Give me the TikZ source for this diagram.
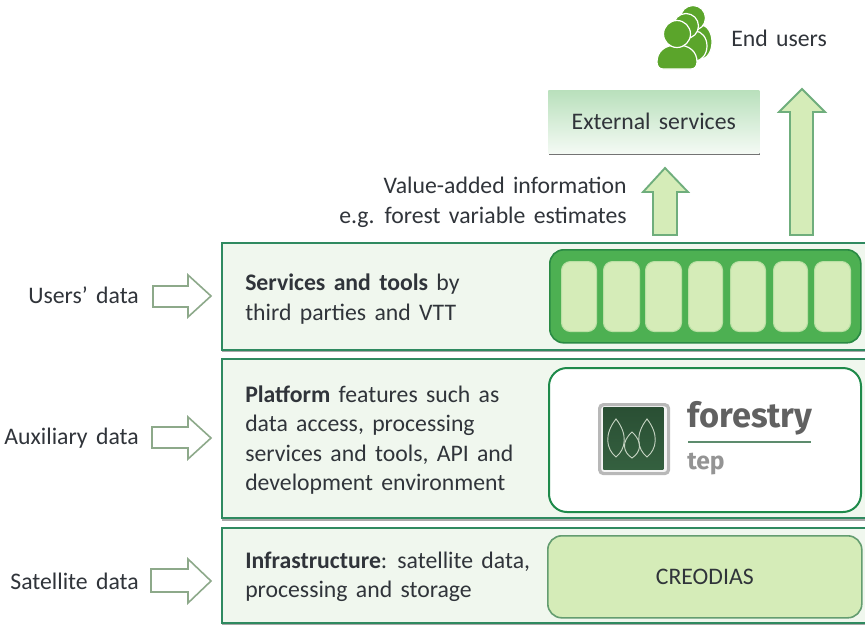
\documentclass[tikz,border=0pt]{standalone}
\usepackage{fontspec}
\setmainfont[WordSpace=1.55]{Carlito}
\newfontfamily\logofont{Fira Sans}
\usetikzlibrary{positioning}
\definecolor{txt}{HTML}{30343A}
\definecolor{layerfill}{HTML}{F0F7EE}
\definecolor{layerline}{HTML}{2F8A60}
\definecolor{lightg}{HTML}{D5ECB8}
\definecolor{midg}{HTML}{4DB052}
\definecolor{darkg}{HTML}{2A8A44}
\definecolor{iconG}{HTML}{5BA52B}
\definecolor{blockline}{HTML}{6FAE7C}
\definecolor{hollowline}{HTML}{8DA98A}
\definecolor{gradtop}{HTML}{B9E0BC}
\definecolor{gradbot}{HTML}{F4FAF4}
\definecolor{platline}{HTML}{1E8A4A}
\definecolor{logotop}{HTML}{2A4F34}
\definecolor{logobot}{HTML}{34603F}
\definecolor{leafline}{HTML}{C5D3C2}
\definecolor{ruleline}{HTML}{5D8C6D}
\newdimen\px \px=0.75pt
\tikzset{
  x=0.75pt,y=-0.75pt,
  lbl/.style={text=txt,font=\fontsize{17.8pt}{22.3pt}\selectfont,inner sep=0pt},
  para/.style={lbl,align=left,anchor=north west,font=\fontsize{17.8pt}{22.1pt}\selectfont},
  layer/.style={draw=layerline,line width=1.5pt,fill=layerfill},
  shadowrect/.style={fill=black!45,draw=none,opacity=.75},
  slot/.style={draw=lightg!80!midg,line width=.8pt,fill=lightg,rounded corners=9\px,inner sep=0pt,anchor=north west,minimum height=70\px},
  blockup/.style={draw=blockline,line width=1.4pt,fill=lightg,line join=miter},
  hollow/.style={draw=hollowline,line width=1.2pt,fill=white,line join=miter},
  iconpart/.style={fill=iconG,draw=white,line width=.9pt},
  leaf/.style={draw=leafline,line width=.7pt},
}
\begin{document}
\begin{tikzpicture}
\useasboundingbox (0,0) rectangle (865,626);
\clip (0,0) rectangle (865,626);
\fill[white] (0,0) rectangle (865,626);

% end users icon
\filldraw[iconpart] (701,42) ellipse (11 and 17);
\filldraw[iconpart] (695,46) ellipse (12 and 15);
\filldraw[iconpart] (693,18) circle (12.5);
\filldraw[iconpart] (686,26) circle (12.5);
\filldraw[iconpart] (663,69) .. controls (659,69) and (657,66) .. (657,62) .. controls (657,52) and (664,45) .. (677,45) .. controls (690,45) and (697,52) .. (697,62) .. controls (697,66) and (695,69) .. (691,69) -- cycle;
\filldraw[iconpart] (677,34) circle (13.5);
\node[lbl,anchor=west] (endusers) at (731,38.5) {End users};

% external services
\fill[black!55] (549,91) rectangle (760,155);
\node[inner sep=0pt,anchor=north west,minimum width=211\px,minimum height=63\px,top color=gradtop,bottom color=gradbot,text=txt,font=\fontsize{17.8pt}{22pt}\selectfont] (external) at (548,90) {External services};

% value added
\node[lbl,anchor=north east,align=right] (value) at (627,177) {Value-added information\\e.g. forest variable estimates};

% block arrows
\draw[blockup] (665,168) -- (688,192) -- (677,192) -- (677,235) -- (653,235) -- (653,192) -- (643,192) -- cycle;
\draw[blockup] (802,89) -- (825,112) -- (813,112) -- (813,235) -- (790,235) -- (790,112) -- (779,112) -- cycle;

% layers
\fill[shadowrect] (222,244) rectangle (870,352);
\node[layer,inner sep=0pt,anchor=north west,minimum width=660\px,minimum height=107\px] (layerA) at (221,242) {};
\fill[shadowrect] (222,361) rectangle (870,521);
\node[layer,inner sep=0pt,anchor=north west,minimum width=660\px,minimum height=159\px] (layerB) at (221,358) {};
\fill[shadowrect] (222,530) rectangle (870,625);
\node[layer,inner sep=0pt,anchor=north west,minimum width=660\px,minimum height=95\px] (layerC) at (221,527) {};

% layer text
\node[para] (textA) at (245,274) {\textbf{Services and tools} by\\third parties and VTT};
\node[para] (textB) at (245,385.5) {\textbf{Platform} features such as\\data access, processing\\services and tools, API and\\development environment};
\node[para] (textC) at (245,551.5) {\textbf{Infrastructure}: satellite data,\\processing and storage};

% services tray
\node[draw=darkg,line width=1.2pt,fill=midg,rounded corners=14\px,inner sep=0pt,anchor=north west,minimum width=311\px,minimum height=93\px] (tray) at (549,249) {};
\node[slot,minimum width=35\px] (s1) at (561,261) {};
\node[slot,minimum width=36\px] (s2) at (603,261) {};
\node[slot,minimum width=36\px] (s3) at (645,261) {};
\node[slot,minimum width=34\px] (s4) at (688,261) {};
\node[slot,minimum width=35\px] (s5) at (730,261) {};
\node[slot,minimum width=34\px] (s6) at (773,261) {};
\node[slot,minimum width=36\px] (s7) at (814,261) {};

% platform box
\node[draw=platline,line width=1.5pt,fill=white,rounded corners=18\px,inner sep=0pt,anchor=north west,minimum width=312\px,minimum height=144\px] (platform) at (548,367) {};
\node[draw=black!28,line width=2.4pt,fill=black!4,rounded corners=4\px,inner sep=0pt,anchor=north west,minimum width=69\px,minimum height=69\px] (logoOuter) at (598,403) {};
\node[top color=logotop,bottom color=logobot,inner sep=0pt,anchor=north west,minimum width=60\px,minimum height=62\px] (logoInner) at (603,407) {};
\draw[leaf] (616,419) .. controls (604,434) and (606,449) .. (616,457) .. controls (626,449) and (628,434) .. (616,419) -- cycle;
\draw[leaf] (632,432) .. controls (621,442) and (623,452) .. (632,458) .. controls (641,452) and (643,442) .. (632,432) -- cycle;
\draw[leaf] (647,419) .. controls (635,434) and (637,449) .. (647,457) .. controls (657,449) and (659,434) .. (647,419) -- cycle;
\node[inner sep=0pt,anchor=base west,text=black!62,font=\logofont\bfseries\fontsize{25.8pt}{26pt}\selectfont] (forestry) at (687,427) {forestry};
\coordinate (ruleL) at (688,442);
\coordinate (ruleR) at (811,442);
\draw[draw=ruleline,line width=1.2pt] (ruleL) -- (ruleR);
\node[inner sep=0pt,anchor=base west,text=black!42,font=\logofont\bfseries\fontsize{18.5pt}{19pt}\selectfont] (tep) at (687,469) {tep};

% creodias
\node[draw=blockline!90!black,line width=1.2pt,fill=lightg,rounded corners=14\px,inner sep=0pt,anchor=north west,minimum width=314\px,minimum height=82\px,text=txt,font=\fontsize{17.8pt}{20pt}\selectfont] (creodias) at (547,535) {CREODIAS};

% side labels and arrows
\node[lbl,anchor=east] (users) at (139,295) {Users’ data};
\node[lbl,anchor=east] (aux) at (139,438) {Auxiliary data};
\node[lbl,anchor=east] (sat) at (139,581) {Satellite data};
\draw[hollow] (153,286) -- (188,286) -- (188,275) -- (211,296) -- (188,317) -- (188,307) -- (153,307) -- cycle;
\draw[hollow] (152,427) -- (188,427) -- (188,417) -- (211,438) -- (188,459) -- (188,448) -- (152,448) -- cycle;
\draw[hollow] (151,569) -- (188,569) -- (188,559) -- (211,581) -- (188,603) -- (188,592) -- (151,592) -- cycle;
\end{tikzpicture}
\end{document}
